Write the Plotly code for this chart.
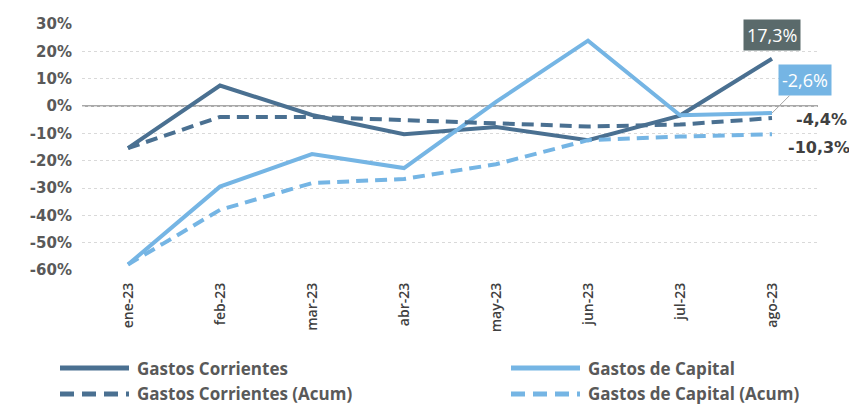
import plotly.graph_objects as go

meses = ["ene-23", "feb-23", "mar-23", "abr-23", "may-23", "jun-23", "jul-23", "ago-23"]

corrientes = [-15.4, 7.5, -3.3, -10.3, -7.7, -12.5, -3.5, 17.3]
capital = [-58.0, -29.5, -17.6, -22.7, 1.5, 23.9, -3.4, -2.6]
corrientes_acum = [-15.4, -4.0, -4.0, -5.1, -6.1, -7.5, -6.8, -4.4]
capital_acum = [-58.0, -38.0, -28.2, -26.7, -21.3, -12.5, -11.2, -10.3]

nombres = ["Gastos Corrientes", "Gastos de Capital",
           "Gastos Corrientes (Acum)", "Gastos de Capital (Acum)"]

y_ticks = [30, 20, 10, 0, -10, -20, -30, -40, -50, -60]
y_text = [f"{v}%" for v in y_ticks]

oscuro = "#4a7091"
claro = "#75b5e4"

# page has an 8px body margin, so work in screen pixels and subtract it
OFF = 8
W, H = 857 - OFF, 407 - OFF
left, top, right, bottom = 82, 24, 818, 270   # plot area on screen
L, T = left - OFF, top - OFF
R, B = W - (right - OFF), H - (bottom - OFF)
pw, ph = W - L - R, H - T - B


def px_x(sx):
    return (sx - OFF - L) / pw


def px_y(sy):
    return (H - B - (sy - OFF)) / ph


series = [
    (corrientes, oscuro, "solid"),
    (capital, claro, "solid"),
    (corrientes_acum, oscuro, "12px,7px"),
    (capital_acum, claro, "12px,7px"),
]

fig = go.Figure()
for (vals, color, dash), name in zip(series, nombres):
    fig.add_trace(go.Scatter(x=meses, y=vals, name=name, mode="lines",
                             line=dict(color=color, width=4, dash=dash),
                             hoverinfo="skip", showlegend=False))

# zero line
fig.add_hline(y=0, line=dict(color="#8c8c8c", width=1.5), layer="below")

# last-value labels
fig.add_annotation(x=meses[-1], y=corrientes[-1], text="17,3%", showarrow=False,
                   yshift=24, bgcolor="#5a6a6b", borderpad=3,
                   font=dict(family="Open Sans", size=18, color="white"))
fig.add_annotation(x=meses[-1], y=capital[-1], text="-2,6%", showarrow=True,
                   arrowhead=0, arrowwidth=1, arrowcolor="#a6a6a6",
                   ax=33, ay=-33, bgcolor=claro, borderpad=3,
                   font=dict(family="Open Sans", size=18, color="white"))
fig.add_annotation(x=meses[-1], y=corrientes_acum[-1], text="-4,4%", showarrow=False,
                   xanchor="left", xshift=22, yshift=-1,
                   font=dict(family="DejaVu Sans", size=16, color="#404040", weight="bold"))
fig.add_annotation(x=meses[-1], y=capital_acum[-1], text="-10,3%", showarrow=False,
                   xanchor="left", xshift=14, yshift=-13,
                   font=dict(family="DejaVu Sans", size=16, color="#404040", weight="bold"))

# custom legend (two columns)
leg_pos = [(60, 368), (511, 368), (60, 394), (511, 394)]
for (vals, color, dash), name, (lx, ly) in zip(series, nombres, leg_pos):
    fig.add_shape(type="line", xref="paper", yref="paper",
                  x0=px_x(lx), x1=px_x(lx + 69), y0=px_y(ly), y1=px_y(ly),
                  line=dict(color=color, width=5, dash="14px,8px" if dash != "solid" else "solid"))
    fig.add_annotation(xref="paper", yref="paper", x=px_x(lx + 75), y=px_y(ly),
                       text=name, showarrow=False, xanchor="left", yanchor="middle",
                       font=dict(family="Open Sans", size=17, color="#595959", weight="bold"))

fig.update_xaxes(type="category", range=[-0.5, 7.5], tickangle=-90,
                 showgrid=False, showline=False, ticks="",
                 tickfont=dict(family="Open Sans", size=14, color="#404040", weight=600),
                 ticklabelstandoff=9)
fig.update_yaxes(range=[-60, 30], tickvals=y_ticks, ticktext=y_text,
                 showgrid=True, gridcolor="#d9d9d9", griddash="dot", gridwidth=1,
                 zeroline=False, showline=False, ticks="", ticklabelstandoff=9,
                 tickfont=dict(family="DejaVu Sans", size=15, color="#595959", weight="bold"))

fig.update_layout(width=W, height=H, margin=dict(l=L, r=R, t=T, b=B, autoexpand=False),
                  plot_bgcolor="white", paper_bgcolor="white", showlegend=False)

fig.write_html("out.html")
